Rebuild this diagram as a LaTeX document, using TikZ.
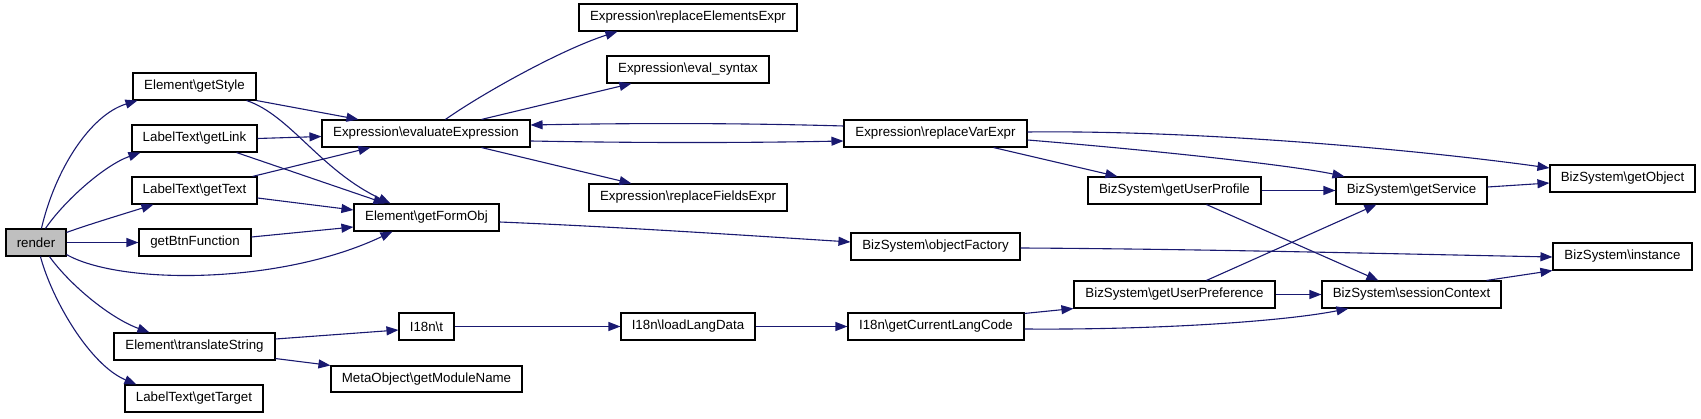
\documentclass[tikz,border=0pt]{standalone}
\usepackage{fontspec}
\setmainfont{Liberation Sans}
\usetikzlibrary{arrows.meta}
\definecolor{edgeblue}{HTML}{191970}
\newcommand{\bs}{\textbackslash}
\begin{document}
\begin{tikzpicture}[x=1pt,y=-1pt,
  fn/.style={draw=black, line width=1.1pt, inner sep=0pt, minimum height=27pt,
    font=\fontsize{13.3}{15}\selectfont, fill=white},
  rootfn/.style={fn, fill=gray!50},
  call/.style={draw=edgeblue, line width=1.1pt, -{Triangle[length=12pt,width=9pt]}}]
\useasboundingbox (0,0) rectangle (1701,419);

% nodes
\node[rootfn, minimum width=60pt]  (render) at (36,242.5) {render};
\node[fn, minimum width=123pt] (getStyle) at (194.5,86.5) {Element\bs getStyle};
\node[fn, minimum width=125pt] (getLink) at (194.5,138.5) {LabelText\bs getLink};
\node[fn, minimum width=125pt] (getText) at (194.5,190.5) {LabelText\bs getText};
\node[fn, minimum width=112pt] (getBtn) at (195,242.5) {getBtnFunction};
\node[fn, minimum width=161pt] (transl) at (194.5,346.5) {Element\bs translateString};
\node[fn, minimum width=138pt] (getTarget) at (194,398.5) {LabelText\bs getTarget};
\node[fn, minimum width=208pt] (evalExpr) at (426,133.5) {Expression\bs evaluateExpression};
\node[fn, minimum width=145pt] (formObj) at (426.5,217.5) {Element\bs getFormObj};
\node[fn, minimum width=55pt] (i18nt) at (426.5,326.5) {I18n\bs t};
\node[fn, minimum width=191pt, minimum height=26pt] (modName) at (426.5,379) {MetaObject\bs getModuleName};
\node[fn, minimum width=218pt] (replElem) at (688,17.5) {Expression\bs replaceElementsExpr};
\node[fn, minimum width=162pt] (evalSyn) at (688,69.5) {Expression\bs eval\_syntax};
\node[fn, minimum width=198pt] (replFields) at (688,197.5) {Expression\bs replaceFieldsExpr};
\node[fn, minimum width=183pt] (replVar) at (935.5,133.5) {Expression\bs replaceVarExpr};
\node[fn, minimum width=169pt] (objFact) at (935.5,246.5) {BizSystem\bs objectFactory};
\node[fn, minimum width=134pt] (loadLang) at (688,326.5) {I18n\bs loadLangData};
\node[fn, minimum width=176pt] (curLang) at (936,326.5) {I18n\bs getCurrentLangCode};
\node[fn, minimum width=173pt] (userProf) at (1174.5,190.5) {BizSystem\bs getUserProfile};
\node[fn, minimum width=201pt] (userPref) at (1174.5,294.5) {BizSystem\bs getUserPreference};
\node[fn, minimum width=151pt] (getSvc) at (1411.5,190.5) {BizSystem\bs getService};
\node[fn, minimum width=179pt] (sessCtx) at (1411.5,294.5) {BizSystem\bs sessionContext};
\node[fn, minimum width=145pt] (getObj) at (1622.5,178.5) {BizSystem\bs getObject};
\node[fn, minimum width=139pt] (inst) at (1622.5,256.5) {BizSystem\bs instance};

% edges from render
\draw[call] ([xshift=36pt]render.north west) .. controls (55,170) and (90,115) .. ([xshift=5pt]getStyle.south west);
\draw[call] ([xshift=40pt]render.north west) .. controls (65,200) and (105,165) .. ([xshift=9pt]getLink.south west);
\draw[call] ([yshift=-4pt]render.north east) .. controls (90,224) and (130,212) .. ([xshift=22pt]getText.south west);
\draw[call] (render.east) -- (getBtn.west);
\draw[call] ([yshift=2pt]render.south east) .. controls (120,285) and (280,285) .. ([xshift=39pt]formObj.south west);
\draw[call] ([xshift=44pt]render.south west) .. controls (70,285) and (110,318) .. ([xshift=36pt]transl.north west);
\draw[call] ([xshift=35pt]render.south west) .. controls (52,300) and (90,365) .. ([xshift=12pt]getTarget.north west);

% second column
\draw[call] (getStyle.south east) -- ([xshift=37pt]evalExpr.north west);
\draw[call] ([xshift=-10pt]getStyle.south east) .. controls (290,115) and (320,170) .. ([xshift=37pt]formObj.north west);
\draw[call] (getLink.east) -- ([yshift=-3pt]evalExpr.west);
\draw[call] ([xshift=-21pt]getLink.south east) -- ([xshift=32pt]formObj.north west);
\draw[call] ([xshift=-5pt]getText.north east) -- ([xshift=49pt]evalExpr.south west);
\draw[call] ([yshift=-7.5pt]getText.east) -- ([yshift=7.5pt]formObj.west);
\draw[call] ([yshift=5.5pt]getBtn.east) -- ([yshift=-9.5pt]formObj.west);
\draw[call] ([yshift=7.5pt]transl.east) -- ([yshift=-3.5pt]i18nt.west);
\draw[call] ([yshift=2pt]transl.south east) -- (modName.north west);

% expression
\draw[call] ([xshift=124pt]evalExpr.north west) .. controls (480,95) and (560,50) .. ([xshift=39pt]replElem.south west);
\draw[call] ([xshift=160pt]evalExpr.north west) -- ([xshift=25pt]evalSyn.south west);
\draw[call] ([xshift=160pt]evalExpr.south west) -- ([xshift=43pt]replFields.north west);
\draw[call] ([yshift=-7.5pt]evalExpr.east) .. controls (640,143) and (740,143) .. ([yshift=-7.5pt]replVar.west);
\draw[call] ([yshift=7.5pt]replVar.west) .. controls (740,123) and (640,123) .. ([yshift=8.5pt]evalExpr.east);
\draw[call] ([yshift=1.5pt]replVar.east) .. controls (1200,130) and (1420,150) .. ([yshift=10.5pt]getObj.west);
\draw[call] ([yshift=-6.5pt]replVar.east) .. controls (1150,150) and (1290,165) .. ([xshift=9pt]getSvc.north west);
\draw[call] ([xshift=-34pt]replVar.south east) -- ([xshift=30pt]userProf.north west);

% form object
\draw[call] ([yshift=-4.5pt]formObj.east) .. controls (620,227) and (740,235) .. ([yshift=4.5pt]objFact.west);
\draw[call] ([yshift=-1.5pt]objFact.east) .. controls (1200,249) and (1400,254) .. ([yshift=-0.5pt]inst.west);

% i18n chain
\draw[call] (i18nt.east) -- (loadLang.west);
\draw[call] (loadLang.east) -- (curLang.west);
\draw[call] ([yshift=-1pt]curLang.north east) -- (userPref.south west);
\draw[call] ([yshift=-2.5pt]curLang.east) .. controls (1150,330) and (1280,322) .. ([xshift=27pt]sessCtx.south west);

% biz system
\draw[call] (userProf.east) -- (getSvc.west);
\draw[call] ([xshift=119pt]userProf.south west) -- ([xshift=57pt]sessCtx.north west);
\draw[call] ([xshift=133pt]userPref.north west) -- ([xshift=41pt]getSvc.south west);
\draw[call] (userPref.east) -- (sessCtx.west);
\draw[call] ([yshift=3.5pt]getSvc.east) -- ([yshift=-4.5pt]getObj.west);
\draw[call] ([xshift=-15pt]sessCtx.north east) -- (inst.south west);
\end{tikzpicture}
\end{document}
